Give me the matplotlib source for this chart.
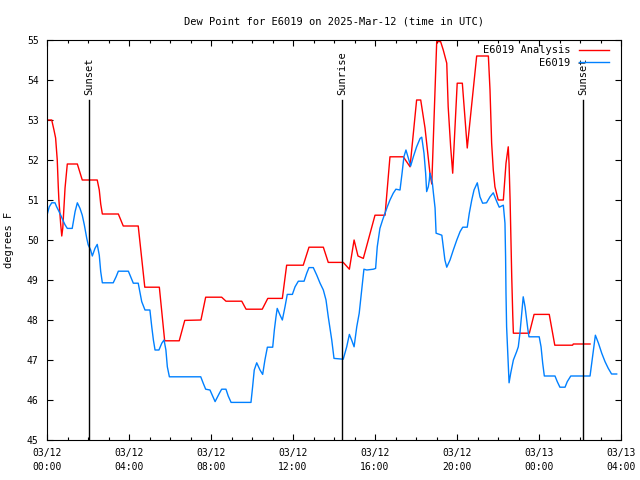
import numpy as np
import matplotlib
matplotlib.use('Agg')
import matplotlib.pyplot as plt

# hours after 03/12 00:00 UTC
ana_t = [0.0, 0.23, 0.34, 0.42, 0.50, 0.55, 0.58, 0.67, 0.72, 0.77, 0.88, 0.99, 1.48, 1.72,
         2.45, 2.55, 2.62, 2.70, 3.48, 3.72, 4.45, 4.77, 5.48, 5.74, 6.45, 6.72, 7.51, 7.74,
         8.52, 8.73, 9.50, 9.71, 10.50, 10.77, 11.48, 11.69, 12.50, 12.78, 13.48, 13.72,
         14.45, 14.75, 14.98, 15.17, 15.43, 16.00, 16.49, 16.73, 17.38, 17.71, 18.03, 18.23,
         18.44, 18.68, 18.77, 19.01, 19.20, 19.33, 19.50, 19.57, 19.69, 19.79, 20.01, 20.26,
         20.50, 20.96, 21.53, 21.61, 21.69, 21.77, 21.85, 22.01, 22.26, 22.39, 22.50, 22.54,
         22.59, 22.67, 22.72, 22.75, 23.53, 23.76, 24.50, 24.77, 25.64, 25.67, 26.49]
ana_v = [53.0, 53.0, 52.75, 52.55, 52.0, 51.33, 51.0, 50.38, 50.1, 50.3, 51.3, 51.9, 51.9, 51.5,
         51.5, 51.25, 50.9, 50.65, 50.65, 50.35, 50.35, 48.82, 48.82, 47.48, 47.48, 47.99, 48.0, 48.57,
         48.57, 48.47, 48.47, 48.27, 48.27, 48.54, 48.54, 49.37, 49.37, 49.82, 49.82, 49.44,
         49.44, 49.27, 50.0, 49.6, 49.54, 50.62, 50.62, 52.08, 52.08, 51.83, 53.5, 53.5,
         52.8, 51.67, 51.4, 54.96, 54.96, 54.75, 54.42, 53.33, 52.33, 51.67, 53.92, 53.92,
         52.3, 54.6, 54.6, 53.75, 52.42, 51.75, 51.33, 51.0, 51.0, 51.92, 52.33, 51.9,
         51.0, 49.08, 48.12, 47.67, 47.67, 48.14, 48.14, 47.37, 47.37, 47.4, 47.4]

obs_t = [0.0, 0.11, 0.23, 0.39, 0.47, 0.55, 0.67, 0.77, 0.88, 0.99, 1.23, 1.37, 1.48, 1.61,
         1.72, 1.82, 1.94, 2.01, 2.13, 2.21, 2.34, 2.45, 2.55, 2.62, 2.70, 3.23, 3.37, 3.48,
         3.97, 4.08, 4.21, 4.45, 4.54, 4.62, 4.78, 5.02, 5.11, 5.19, 5.27, 5.46, 5.60, 5.71,
         5.80, 5.87, 5.97, 7.50, 7.62, 7.74, 7.95, 8.20, 8.41, 8.52, 8.73, 8.84, 8.98, 9.95,
         10.03, 10.11, 10.23, 10.39, 10.52, 10.63, 10.75, 11.01, 11.09, 11.17, 11.23, 11.37,
         11.48, 11.61, 11.72, 11.97, 12.10, 12.26, 12.54, 12.67, 12.78, 12.99, 13.16, 13.32,
         13.48, 13.61, 13.72, 13.89, 14.00, 14.45, 14.62, 14.75, 14.86, 14.98, 15.11, 15.23,
         15.35, 15.46, 15.60, 15.92, 16.03, 16.11, 16.24, 16.37, 16.49, 16.60, 16.73, 16.89,
         17.02, 17.22, 17.32, 17.41, 17.51, 17.63, 17.74, 17.87, 18.03, 18.20, 18.28, 18.39,
         18.47, 18.52, 18.60, 18.65, 18.68, 18.73, 18.80, 18.85, 18.93, 18.98, 19.26, 19.33,
         19.41, 19.50, 19.66, 19.82, 19.99, 20.15, 20.28, 20.50, 20.60, 20.72, 20.83, 20.99,
         21.12, 21.25, 21.44, 21.61, 21.77, 21.94, 22.06, 22.26, 22.34, 22.37, 22.39, 22.42,
         22.50, 22.54, 22.62, 22.75, 22.91, 22.99, 23.07, 23.16, 23.23, 23.32, 23.40, 23.45,
         23.51, 24.01, 24.10, 24.18, 24.26, 24.78, 24.89, 25.02, 25.27, 25.38, 25.55, 26.49,
         26.57, 26.65, 26.75, 26.90, 27.06, 27.22, 27.38, 27.54, 27.79]
obs_v = [50.62, 50.83, 50.93, 50.93, 50.83, 50.75, 50.62, 50.5, 50.38, 50.29, 50.29, 50.71, 50.93, 50.79,
         50.62, 50.38, 50.04, 49.88, 49.75, 49.6, 49.79, 49.89, 49.62, 49.21, 48.93, 48.93, 49.08, 49.22,
         49.22, 49.08, 48.92, 48.92, 48.67, 48.46, 48.25, 48.25, 47.83, 47.5, 47.25, 47.25, 47.42, 47.5,
         47.25, 46.83, 46.58, 46.58, 46.42, 46.27, 46.25, 45.96, 46.17, 46.27, 46.27, 46.1, 45.94, 45.94,
         46.33, 46.75, 46.93, 46.75, 46.64, 47.0, 47.32, 47.32, 47.75, 48.08, 48.29, 48.12,
         48.0, 48.33, 48.64, 48.64, 48.83, 48.97, 48.97, 49.17, 49.31, 49.31, 49.12, 48.92,
         48.75, 48.5, 48.08, 47.5, 47.04, 47.02, 47.33, 47.64, 47.5, 47.33, 47.83, 48.17,
         48.75, 49.27, 49.25, 49.27, 49.29, 49.83, 50.29, 50.5, 50.67, 50.83, 51.0, 51.17,
         51.27, 51.25, 51.67, 52.08, 52.25, 52.04, 51.85, 52.08, 52.33, 52.54, 52.57, 52.17,
         51.67, 51.21, 51.33, 51.5, 51.67, 51.58, 51.42, 51.17, 50.8, 50.17, 50.12, 49.83,
         49.5, 49.32, 49.5, 49.75, 50.0, 50.21, 50.32, 50.32, 50.67, 51.0, 51.25, 51.43,
         51.08, 50.92, 50.93, 51.08, 51.18, 50.96, 50.82, 50.87, 50.42, 49.58, 48.67, 47.83,
         46.88, 46.43, 46.67, 47.0, 47.21, 47.33, 47.67, 48.17, 48.58, 48.33, 48.0, 47.79,
         47.58, 47.58, 47.33, 46.92, 46.6, 46.6, 46.46, 46.32, 46.32, 46.46, 46.6, 46.6,
         46.92, 47.25, 47.62, 47.42, 47.17, 46.96, 46.79, 46.65, 46.65]

sun_t = [2.05, 14.4, 26.15]
sun_lbl = ['Sunset', 'Sunrise', 'Sunset']

tick_t = [0, 4, 8, 12, 16, 20, 24, 28]
tick_lbl = ['03/12\n00:00', '03/12\n04:00', '03/12\n08:00', '03/12\n12:00',
            '03/12\n16:00', '03/12\n20:00', '03/13\n00:00', '03/13\n04:00']

plt.rcParams['font.family'] = 'DejaVu Sans Mono'
plt.rcParams['font.size'] = 7

fig = plt.figure(figsize=(6.4, 4.8), dpi=100)
ax = fig.add_axes([47/640, 40/480, 574/640, 400/480])

ax.plot(ana_t, ana_v, color='#ff0000', lw=1, label='E6019 Analysis')
ax.plot(obs_t, obs_v, color='#0080ff', lw=1, label='E6019')

for t, s in zip(sun_t, sun_lbl):
    ax.plot([t, t], [45, 53.5], color='k', lw=1)
    ax.text(t, 53.62, s, rotation=90, ha='center', va='bottom', fontsize=7.5)

ax.set_xlim(0, 28)
ax.set_ylim(45, 55)
ax.set_xticks(tick_t)
ax.set_xticklabels(tick_lbl, linespacing=1.5)
ax.set_xticks(np.arange(0, 29, 1), minor=True)
ax.set_yticks(np.arange(45, 56, 1))
ax.tick_params(which='both', direction='in', top=True, right=True)
ax.tick_params(which='major', length=4, width=0.8)
ax.tick_params(which='minor', length=2.5, width=0.8)
ax.tick_params(axis='x', pad=6)
ax.tick_params(axis='y', pad=6)

ax.set_title('Dew Point for E6019 on 2025-Mar-12 (time in UTC)', fontsize=7.5, pad=11)
ax.set_ylabel('degrees F', fontsize=7.5, labelpad=9)

ax.legend(loc='upper right', bbox_to_anchor=(0.986, 0.997), borderaxespad=0,
          frameon=False, markerfirst=False, handlelength=2.9,
          labelspacing=0.25, handletextpad=0.8, fontsize=7.5)

fig.savefig('out.png', dpi=100)
